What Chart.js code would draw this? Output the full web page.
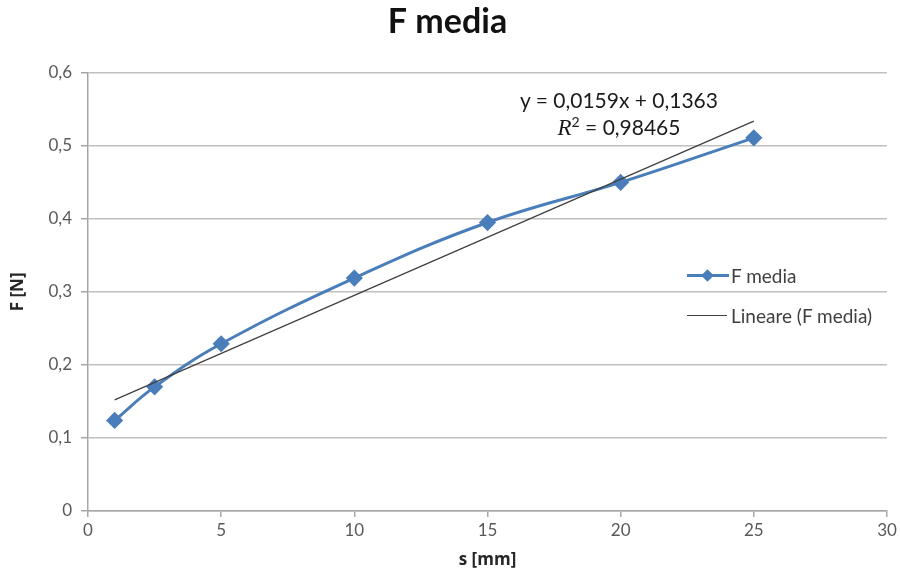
<!DOCTYPE html>
<html>
<head>
<meta charset="utf-8">
<title>F media</title>
<script src="https://cdn.jsdelivr.net/npm/chart.js@4.4.1/dist/chart.umd.min.js"></script>
<style>
  body { margin: 0; background: #fff; }
  #wrap { position: relative; width: 900px; height: 570px; font-family: Lato, "Open Sans", sans-serif; }
  .legend { position: absolute; left: 687px; font-size: 19px; line-height: 23px; color: #404040; }
  .legend .row { position: absolute; white-space: nowrap; }
  .legend .key { position: absolute; left: 0; height: 0; }
  .legend .txt { position: absolute; left: 44px; top: 0; }
  .dia { position: absolute; left: 16px; top: -6px; width: 9px; height: 9px; background: #4a7ebb; transform: rotate(45deg); }
  .eq { position: absolute; left: 469px; width: 300px; text-align: center; font-size: 21px; line-height: 25px; color: #1a1a1a; }
</style>
</head>
<body>
<div id="wrap">
  <canvas id="fChart" width="900" height="570"></canvas>
  <div class="eq" style="top:87px">y = 0,0159x + 0,1363</div>
  <div class="eq" style="top:114px"><i style="font-family:'Liberation Serif',serif;font-size:23px">R</i><sup style="font-size:14px;line-height:0">2</sup> = 0,98465</div>
  <div class="legend" style="top:264px">
    <div class="row">
      <div class="key" style="width:42px;border-top:3px solid #4a7ebb;top:10px"><div class="dia"></div></div>
      <div class="txt">F media</div>
    </div>
  </div>
  <div class="legend" style="top:304px">
    <div class="row">
      <div class="key" style="width:40px;border-top:1.5px solid #404040;top:11px"></div>
      <div class="txt">Lineare (F media)</div>
    </div>
  </div>
</div>
<script>
// spostamento s [mm] e forza media F [N]
const sValues = [1, 2.5, 5, 10, 15, 20, 25];
const fValues = [0.124, 0.170, 0.229, 0.319, 0.395, 0.450, 0.511];

// retta di regressione lineare
const slope = 0.0159;
const intercept = 0.1363;
const trendX = [1, 25];

const xTicks = [0, 5, 10, 15, 20, 25, 30];
const yTicks = [0, 0.1, 0.2, 0.3, 0.4, 0.5, 0.6];

const fmt = v => String(Math.round(v * 10) / 10).replace('.', ',');

new Chart(document.getElementById('fChart'), {
  type: 'scatter',
  data: {
    datasets: [
      {
        label: 'F media',
        data: sValues.map((s, i) => ({ x: s, y: fValues[i] })),
        showLine: true,
        tension: 0.4,
        borderColor: '#4a7ebb',
        backgroundColor: '#4a7ebb',
        borderWidth: 3,
        pointStyle: 'rectRot',
        pointRadius: 6.5,
        pointHoverRadius: 6.5,
        order: 2
      },
      {
        label: 'Lineare (F media)',
        data: trendX.map(x => ({ x: x, y: slope * x + intercept })),
        showLine: true,
        borderColor: '#404040',
        borderWidth: 1.3,
        pointRadius: 0,
        order: 1
      }
    ]
  },
  options: {
    responsive: false,
    animation: false,
    layout: { padding: { left: 8, right: 13, top: 0, bottom: 0 } },
    plugins: {
      legend: { display: false },
      tooltip: { enabled: false },
      title: {
        display: true,
        text: 'F media',
        color: '#111',
        font: { family: 'Lato, "Open Sans", sans-serif', size: 34, weight: 'bold', lineHeight: 1.2 },
        padding: { top: 2, bottom: 30 }
      }
    },
    scales: {
      x: {
        type: 'linear',
        min: 0, max: 30,
        afterBuildTicks: ax => { ax.ticks = xTicks.map(v => ({ value: v })); },
        afterFit: ax => { ax.height = 59; },
        border: { color: '#a6a6a6', width: 1.5 },
        grid: { drawOnChartArea: false, drawTicks: true, tickLength: 6, color: '#a6a6a6', lineWidth: 1.5 },
        ticks: { color: '#595959', font: { family: 'Lato, sans-serif', size: 17 }, padding: 3, callback: v => fmt(v) },
        title: { display: true, text: 's [mm]', color: '#262626', font: { family: '"Open Sans", sans-serif', size: 17, weight: 'bold', lineHeight: 1.2 }, padding: { top: 0, bottom: 0 } }
      },
      y: {
        min: 0, max: 0.6,
        afterBuildTicks: ax => { ax.ticks = yTicks.map(v => ({ value: v })); },
        afterFit: ax => { ax.width = 80; },
        border: { color: '#a6a6a6', width: 1.5 },
        grid: { color: '#bfbfbf', lineWidth: 1.5, drawTicks: true, tickLength: 7, tickColor: '#a6a6a6' },
        ticks: { color: '#595959', font: { family: 'Lato, sans-serif', size: 17 }, padding: 9, callback: v => fmt(v) },
        title: { display: true, text: 'F [N]', color: '#262626', font: { family: '"Open Sans", sans-serif', size: 17, weight: 'bold', lineHeight: 1.2 }, padding: { top: 0, bottom: 6 } }
      }
    }
  }
});
</script>
</body>
</html>
